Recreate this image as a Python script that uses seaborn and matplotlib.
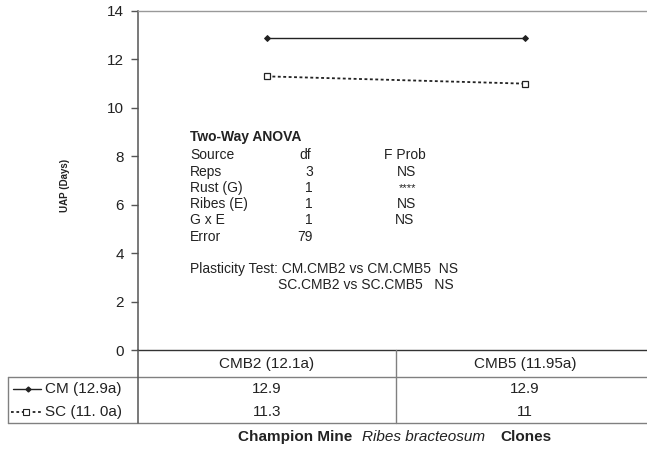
import matplotlib
matplotlib.use("Agg")
import matplotlib.pyplot as plt
from matplotlib.lines import Line2D
import seaborn as sns
import pandas as pd

# Ribes clone environments (columns) and rust source groups (series)
environments = ["CMB2 (12.1a)", "CMB5 (11.95a)"]
series_names = ["CM (12.9a)", "SC (11. 0a)"]
cm_values = [12.9, 12.9]
sc_values = [11.3, 11]
y_ticks = [0, 2, 4, 6, 8, 10, 12, 14]

anova_rows = [
    ("Source", "df", "F Prob"),
    ("Reps", "3", "NS"),
    ("Rust (G)", "1", "****"),
    ("Ribes (E)", "1", "NS"),
    ("G x E", "1", "NS"),
    ("Error", "79", ""),
]
plasticity_lines = [
    "Plasticity Test: CM.CMB2 vs CM.CMB5  NS",
    "SC.CMB2 vs SC.CMB5   NS",
]

sns.set_theme(style="white")
plt.rcParams["font.family"] = ["Liberation Sans", "DejaVu Sans"]

W, H = 647, 451
fig = plt.figure(figsize=(W / 100, H / 100), dpi=100)


def fx(x):
    return x / W


def fy(y):
    return 1 - y / H


ax_left, ax_right, ax_top, ax_bottom = 138, 654, 11, 350
ax = fig.add_axes([fx(ax_left), fy(ax_bottom), (ax_right - ax_left) / W,
                   (ax_bottom - ax_top) / H])

df = pd.DataFrame({
    "env": environments * 2,
    "uap": cm_values + sc_values,
    "group": [series_names[0]] * 2 + [series_names[1]] * 2,
})

ink = "#222222"
sns.lineplot(data=df[df.group == series_names[0]], x="env", y="uap", ax=ax,
             color=ink, lw=1.0, marker="D", markersize=3,
             markeredgecolor=ink, markerfacecolor=ink)
sns.lineplot(data=df[df.group == series_names[1]], x="env", y="uap", ax=ax,
             color=ink, lw=1.3, linestyle=(0, (1.6, 1.4)), marker="s",
             markersize=5, markerfacecolor="white", markeredgecolor=ink,
             markeredgewidth=0.9)

ax.set_xlim(-0.5, 1.5)
ax.set_ylim(0, 14)
ax.set_yticks(y_ticks)
ax.set_yticklabels([str(t) for t in y_ticks], fontsize=11, color=ink)
ax.set_xticks([])
ax.set_xlabel("")
ax.set_ylabel("")
ax.tick_params(axis="y", left=True, length=5, width=1, color="#555555", pad=5)
for side in ["left", "bottom", "top", "right"]:
    ax.spines[side].set_visible(True)
ax.spines["left"].set_color("#555555")
ax.spines["left"].set_linewidth(1.1)
ax.spines["bottom"].set_color("#333333")
ax.spines["bottom"].set_linewidth(1.0)
ax.spines["top"].set_color("#999999")
ax.spines["top"].set_linewidth(1.0)
ax.spines["right"].set_visible(False)

fig.text(fx(65), fy(185), "UAP (Days)", rotation=90, fontsize=7,
         fontweight="bold", color=ink, ha="center", va="center")

# ANOVA summary inside the plot area
fig.text(fx(190), fy(137), "Two-Way ANOVA", fontsize=10, fontweight="bold",
         color=ink, ha="left", va="center")
row_y = [155, 172, 188, 204, 220, 237]
df_x = [305, 313, 313, 313, 313, 313]
prob_x = [405, 406, 408, 407, 404, 406]
for (label, dfv, prob), y, dx, px in zip(anova_rows, row_y, df_x, prob_x):
    fig.text(fx(190), fy(y), label, fontsize=10, color=ink, ha="left", va="center")
    fig.text(fx(dx), fy(y), dfv, fontsize=10, color=ink,
             ha="center" if dfv == "df" else "right", va="center")
    if prob:
        fig.text(fx(px), fy(y), prob, fontsize=10 if prob != "****" else 8,
                 color=ink, ha="center", va="center")
fig.text(fx(190), fy(269), plasticity_lines[0], fontsize=10, color=ink,
         ha="left", va="center")
fig.text(fx(278), fy(285), plasticity_lines[1], fontsize=10, color=ink,
         ha="left", va="center")

# Data table beneath the axis
grid = "#808080"
row_edges = [350, 377, 400, 423]
col_edges = [ax_left, 396, ax_right]
legend_left = 8


def hline(y, x0, x1, color=grid, lw=1.0):
    fig.add_artist(Line2D([fx(x0), fx(x1)], [fy(y), fy(y)], color=color, lw=lw))


def vline(x, y0, y1, color=grid, lw=1.0):
    fig.add_artist(Line2D([fx(x), fx(x)], [fy(y0), fy(y1)], color=color, lw=lw))


hline(row_edges[1], legend_left, ax_right)
hline(row_edges[3], legend_left, ax_right)
vline(legend_left, row_edges[1], row_edges[3])
vline(ax_left, row_edges[0], row_edges[3], color="#555555", lw=1.1)
vline(col_edges[1], row_edges[0], row_edges[3])

col_centers = [(col_edges[i] + col_edges[i + 1]) / 2 for i in range(2)]
for cx, env in zip(col_centers, environments):
    fig.text(fx(cx), fy(364), env, fontsize=11, color=ink, ha="center", va="center")
for ry, vals in zip([389, 412], [cm_values, sc_values]):
    for cx, v in zip(col_centers, vals):
        fig.text(fx(cx), fy(ry), f"{v:g}", fontsize=11, color=ink,
                 ha="center", va="center")

# Legend keys in the first table column
fig.add_artist(Line2D([fx(13), fx(41)], [fy(389), fy(389)], color=ink, lw=1.0))
fig.add_artist(Line2D([fx(28)], [fy(389)], color=ink, marker="D", markersize=2.5,
                      markerfacecolor=ink, markeredgecolor=ink))
fig.add_artist(Line2D([fx(11), fx(41)], [fy(412), fy(412)], color=ink, lw=1.3,
                      linestyle=(0, (1.5, 1.5))))
fig.add_artist(Line2D([fx(26)], [fy(412)], color=ink, marker="s", markersize=4,
                      markerfacecolor="white", markeredgecolor=ink,
                      markeredgewidth=0.8, linestyle="none"))
for ry, name in zip([389, 412], series_names):
    fig.text(fx(45), fy(ry), name, fontsize=11, color=ink, ha="left", va="center")

# Caption
fig.text(fx(238), fy(437), "Champion Mine", fontsize=11, fontweight="bold",
         color=ink, ha="left", va="center")
fig.text(fx(362), fy(437), "Ribes bracteosum", fontsize=11, fontstyle="italic",
         color=ink, ha="left", va="center")
fig.text(fx(500), fy(437), "Clones", fontsize=11, fontweight="bold",
         color=ink, ha="left", va="center")

fig.savefig("out.png", dpi=100, facecolor="white")
